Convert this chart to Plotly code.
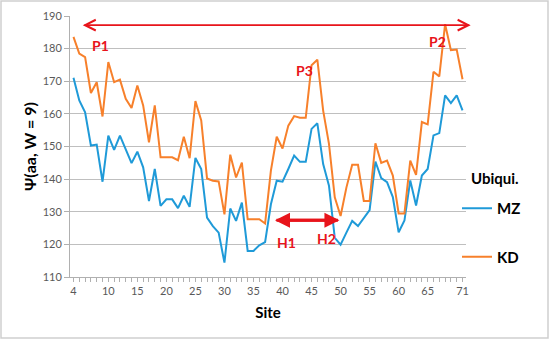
import plotly.graph_objects as go

sites = list(range(4, 72))
mz = [171.1, 164.1, 160.5, 150.3, 150.6, 139.2, 153.3, 149.0, 153.3, 149.2,
      144.9, 148.4, 143.6, 133.3, 143.1, 131.8, 133.8, 133.8, 131.1, 134.9,
      131.5, 146.5, 143.1, 128.2, 125.6, 123.6, 114.4, 131.0, 127.2, 132.8,
      118.0, 118.0, 119.7, 120.7, 132.3, 139.5, 139.2, 143.1, 147.2, 145.3,
      145.3, 155.4, 157.1, 144.6, 138.0, 122.0, 119.9, 123.6, 127.2, 125.6,
      128.2, 130.5, 145.4, 140.3, 139.1, 134.5, 123.7, 127.3, 139.6, 131.9,
      141.1, 143.1, 153.4, 154.1, 165.7, 163.3, 165.7, 161.1]
kd = [183.6, 178.5, 177.4, 166.4, 169.7, 159.2, 175.9, 169.7, 170.5, 164.6,
      161.8, 168.7, 162.6, 151.3, 162.6, 146.7, 146.7, 146.7, 145.8, 153.0,
      146.4, 163.9, 158.0, 140.2, 139.5, 139.3, 129.2, 147.5, 140.5, 145.1,
      127.7, 127.7, 127.7, 126.4, 142.6, 153.0, 149.4, 156.4, 159.3, 158.8,
      158.8, 174.9, 176.6, 161.0, 150.8, 134.4, 128.7, 137.4, 144.4, 144.4,
      133.3, 133.3, 151.0, 145.0, 145.7, 141.1, 129.5, 129.5, 145.7, 141.3,
      157.5, 156.8, 172.9, 171.5, 187.5, 179.5, 179.7, 170.6]
label_sites = [4, 10, 15, 20, 25, 30, 35, 40, 45, 50, 55, 60, 65, 71]
tick_text = [str(s) if s in label_sites else "" for s in sites]

W, H = 550, 342
L, R, T, B = 70, 84, 16, 65
pw, ph = W - L - R, H - T - B

def px(p):
    return (p - L) / pw

def py(p):
    return (H - B - p) / ph

BLUE = "#1f9ad8"
ORANGE = "#f7802b"
RED = "#e8141b"
FONT = "Lato, 'Open Sans', sans-serif"

fig = go.Figure()
fig.add_trace(go.Scatter(x=sites, y=mz, mode="lines", name="<b>MZ</b>",
                         line=dict(color=BLUE, width=2), legendgroup="a"))
fig.add_trace(go.Scatter(x=sites, y=kd, mode="lines", name="<b>KD</b>",
                         line=dict(color=ORANGE, width=2), legendgroup="b"))

annotations = []
# top double arrow
top_y, top_l, top_r = 187.2, 5.6, 72.4
for end, tail in ((top_l, top_r), (top_r, top_l)):
    annotations.append(dict(x=end, y=top_y, ax=tail, ay=top_y, xref="x", yref="y",
                            axref="x", ayref="y", showarrow=True, arrowhead=5,
                            arrowsize=1.4, arrowwidth=1.5, arrowcolor=RED, text=""))
# H arrow
h_y, h_l, h_r = 127.4, 38.7, 49.8
for end, tail in ((h_l, h_r), (h_r, h_l)):
    annotations.append(dict(x=end, y=h_y, ax=tail, ay=h_y, xref="x", yref="y",
                            axref="x", ayref="y", showarrow=True, arrowhead=2,
                            arrowsize=1.0, arrowwidth=3, arrowcolor=RED, text=""))
labels = [("P1", 8.7, 181.1), ("P2", 66.7, 182.3), ("P3", 43.8, 173.4),
          ("H1", 40.6, 120.6), ("H2", 47.6, 121.9)]
for t, lx, ly in labels:
    annotations.append(dict(x=lx, y=ly, xref="x", yref="y", text="<b>%s</b>" % t,
                            showarrow=False, font=dict(color=RED, size=14, family=FONT)))
annotations.append(dict(x=px(521), y=py(178), xref="paper", yref="paper",
                        text="<b>Ubiqui.</b>", showarrow=False,
                        font=dict(size=15, color="black", family=FONT)))

fig.update_layout(
    width=W, height=H,
    margin=dict(l=L, r=R, t=T, b=B, autoexpand=False),
    paper_bgcolor="white", plot_bgcolor="white",
    font=dict(family=FONT, color="#595959", size=11),
    showlegend=True,
    legend=dict(x=px(457), y=py(192), xanchor="left", yanchor="top",
                font=dict(size=15, color="black", family=FONT),
                tracegroupgap=26, itemwidth=30, bgcolor="rgba(0,0,0,0)"),
    xaxis=dict(range=[3.4, 71.6], tickmode="array", tickvals=sites, ticktext=tick_text,
               ticks="outside", ticklen=4, tickcolor="#b0b0b0", showgrid=False,
               showline=True, linecolor="#b0b0b0", zeroline=False, automargin=False,
               title=dict(text="<b>Site</b>", font=dict(size=15, color="black", family=FONT),
                          standoff=11),
               tickfont=dict(size=11, color="#595959")),
    yaxis=dict(range=[110, 190], dtick=10, tick0=110, showgrid=True, gridcolor="#bfbfbf",
               gridwidth=1, showline=True, linecolor="#b0b0b0", ticks="outside",
               ticklen=5, tickcolor="#b0b0b0", zeroline=False, automargin=False,
               title=dict(text="<b>Ψ(aa, W = 9)</b>", font=dict(size=16, color="black", family=FONT),
                          standoff=2),
               tickfont=dict(size=11, color="#595959")),
    annotations=annotations,
    shapes=[dict(type="rect", xref="paper", yref="paper", x0=px(1), x1=px(548),
                 y0=py(338), y1=py(1), line=dict(color="#cfcfcf", width=1.5),
                 layer="below")],
)

fig.write_html("out.html", config={"displayModeBar": False},
               post_script="document.body.style.margin='0';")
